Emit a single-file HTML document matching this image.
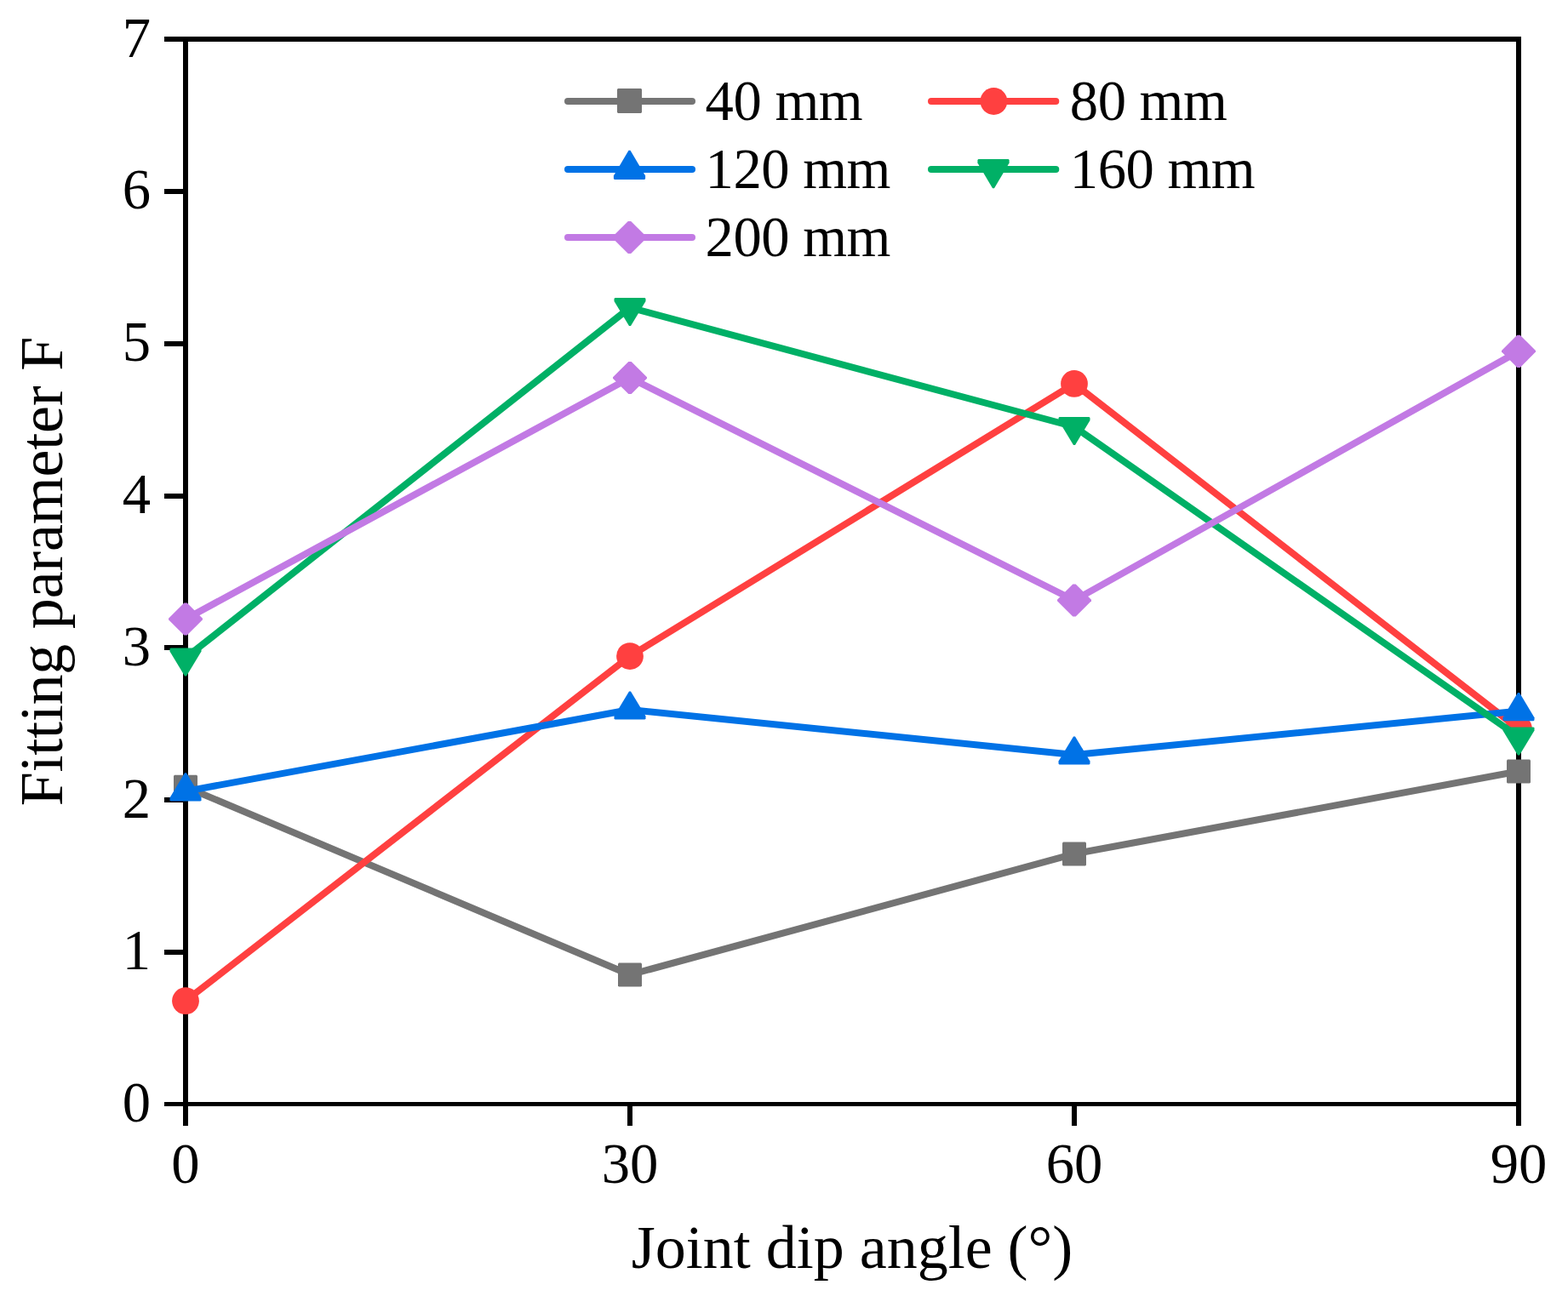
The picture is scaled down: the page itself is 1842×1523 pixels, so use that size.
<!DOCTYPE html>
<html lang="en"><head><meta charset="utf-8"><title>Fitting parameter F vs joint dip angle</title>
<style>
html,body{margin:0;padding:0;background:#fff;}
body{width:1842px;height:1523px;overflow:hidden;}
svg{display:block;}
text{font-family:"Liberation Serif","Times New Roman",serif;fill:#000;}
.t{font-size:66.67px;}
.a{font-size:72.0px;}
</style></head><body>
<svg width="1842" height="1523" viewBox="0 0 1842 1523">
<rect width="1842" height="1523" fill="#fff"/>
<g fill="#000" shape-rendering="crispEdges">
<rect x="193" y="43" width="1594" height="6"/>
<rect x="193" y="1295" width="1594" height="5"/>
<rect x="215" y="43" width="6" height="1280"/>
<rect x="1781" y="43" width="6" height="1280"/>
<rect x="193" y="1116" width="25" height="6"/>
<rect x="193" y="937" width="25" height="6"/>
<rect x="193" y="758" width="25" height="6"/>
<rect x="193" y="580" width="25" height="6"/>
<rect x="193" y="401" width="25" height="6"/>
<rect x="193" y="222" width="25" height="6"/>
<rect x="737" y="1297" width="6" height="26"/>
<rect x="1259" y="1297" width="6" height="26"/>
</g>
<g class="t">
<text x="177" y="1318.20" text-anchor="end">0</text>
<text x="177" y="1139.41" text-anchor="end">1</text>
<text x="177" y="960.63" text-anchor="end">2</text>
<text x="177" y="781.84" text-anchor="end">3</text>
<text x="177" y="603.06" text-anchor="end">4</text>
<text x="177" y="424.27" text-anchor="end">5</text>
<text x="177" y="245.49" text-anchor="end">6</text>
<text x="177" y="66.70" text-anchor="end">7</text>
<text x="218" y="1390.3" text-anchor="middle">0</text>
<text x="740" y="1390.3" text-anchor="middle">30</text>
<text x="1262" y="1390.3" text-anchor="middle">60</text>
<text x="1784" y="1390.3" text-anchor="middle">90</text>
</g>
<text class="a" x="1001" y="1489.6" text-anchor="middle">Joint dip angle (°)</text>
<text class="a" transform="translate(73.4 671.6) rotate(-90)" text-anchor="middle" letter-spacing="-0.24">Fitting parameter F</text>
<polyline points="218,924.70 740,1145.50 1262,1003.40 1784,906.40" fill="none" stroke="#747474" stroke-width="8.0" stroke-linejoin="round" stroke-linecap="butt"/>
<polygon points="205.00,910.70 231.00,910.70 232.00,911.70 232.00,937.70 231.00,938.70 205.00,938.70 204.00,937.70 204.00,911.70" fill="#747474"/>
<polygon points="727.00,1131.50 753.00,1131.50 754.00,1132.50 754.00,1158.50 753.00,1159.50 727.00,1159.50 726.00,1158.50 726.00,1132.50" fill="#747474"/>
<polygon points="1249.00,989.40 1275.00,989.40 1276.00,990.40 1276.00,1016.40 1275.00,1017.40 1249.00,1017.40 1248.00,1016.40 1248.00,990.40" fill="#747474"/>
<polygon points="1771.00,892.40 1797.00,892.40 1798.00,893.40 1798.00,919.40 1797.00,920.40 1771.00,920.40 1770.00,919.40 1770.00,893.40" fill="#747474"/>
<polyline points="218,1176.20 740,771.10 1262,450.90 1784,856.50" fill="none" stroke="#ff4040" stroke-width="8.0" stroke-linejoin="round" stroke-linecap="butt"/>
<circle cx="218.00" cy="1176.20" r="15.9" fill="#ff4040"/>
<circle cx="740.00" cy="771.10" r="15.9" fill="#ff4040"/>
<circle cx="1262.00" cy="450.90" r="15.9" fill="#ff4040"/>
<circle cx="1784.00" cy="856.50" r="15.9" fill="#ff4040"/>
<polyline points="218,929.90 740,834.00 1262,887.00 1784,835.60" fill="none" stroke="#0072e6" stroke-width="8.0" stroke-linejoin="round" stroke-linecap="butt"/>
<polygon points="217.00,908.30 219.00,908.30 236.50,937.50 236.50,940.50 235.50,941.50 200.50,941.50 199.50,940.50 199.50,937.50" fill="#0072e6"/>
<polygon points="739.00,812.40 741.00,812.40 758.50,841.60 758.50,844.60 757.50,845.60 722.50,845.60 721.50,844.60 721.50,841.60" fill="#0072e6"/>
<polygon points="1261.00,865.40 1263.00,865.40 1280.50,894.60 1280.50,897.60 1279.50,898.60 1244.50,898.60 1243.50,897.60 1243.50,894.60" fill="#0072e6"/>
<polygon points="1783.00,814.00 1785.00,814.00 1802.50,843.20 1802.50,846.20 1801.50,847.20 1766.50,847.20 1765.50,846.20 1765.50,843.20" fill="#0072e6"/>
<polyline points="218,773.00 740,361.50 1262,501.50 1784,866.00" fill="none" stroke="#00b066" stroke-width="8.0" stroke-linejoin="round" stroke-linecap="butt"/>
<polygon points="217.00,794.60 219.00,794.60 236.50,765.40 236.50,762.40 235.50,761.40 200.50,761.40 199.50,762.40 199.50,765.40" fill="#00b066"/>
<polygon points="739.00,383.10 741.00,383.10 758.50,353.90 758.50,350.90 757.50,349.90 722.50,349.90 721.50,350.90 721.50,353.90" fill="#00b066"/>
<polygon points="1261.00,523.10 1263.00,523.10 1280.50,493.90 1280.50,490.90 1279.50,489.90 1244.50,489.90 1243.50,490.90 1243.50,493.90" fill="#00b066"/>
<polygon points="1783.00,887.60 1785.00,887.60 1802.50,858.40 1802.50,855.40 1801.50,854.40 1766.50,854.40 1765.50,855.40 1765.50,858.40" fill="#00b066"/>
<polyline points="218,727.50 740,444.00 1262,705.50 1784,412.80" fill="none" stroke="#c27ae4" stroke-width="8.0" stroke-linejoin="round" stroke-linecap="butt"/>
<polygon points="216.30,708.40 219.70,708.40 238.00,726.70 238.00,728.30 219.70,746.60 216.30,746.60 198.00,728.30 198.00,726.70" fill="#c27ae4"/>
<polygon points="738.30,424.90 741.70,424.90 760.00,443.20 760.00,444.80 741.70,463.10 738.30,463.10 720.00,444.80 720.00,443.20" fill="#c27ae4"/>
<polygon points="1260.30,686.40 1263.70,686.40 1282.00,704.70 1282.00,706.30 1263.70,724.60 1260.30,724.60 1242.00,706.30 1242.00,704.70" fill="#c27ae4"/>
<polygon points="1782.30,393.70 1785.70,393.70 1804.00,412.00 1804.00,413.60 1785.70,431.90 1782.30,431.90 1764.00,413.60 1764.00,412.00" fill="#c27ae4"/>
<line x1="667" y1="119" x2="813" y2="119" stroke="#747474" stroke-width="8.0" stroke-linecap="round"/>
<polygon points="726.00,104.00 753.00,104.00 754.00,105.00 754.00,132.00 753.00,133.00 726.00,133.00 725.00,132.00 725.00,105.00" fill="#747474"/>
<text class="t" x="828.6" y="141.2" letter-spacing="-0.5">40 mm</text>
<line x1="1094" y1="119" x2="1240.3" y2="119" stroke="#ff4040" stroke-width="8.0" stroke-linecap="round"/>
<circle cx="1167.40" cy="119.00" r="15.9" fill="#ff4040"/>
<text class="t" x="1256.8" y="141.2" letter-spacing="-0.5">80 mm</text>
<line x1="667" y1="199" x2="813" y2="199" stroke="#0072e6" stroke-width="8.0" stroke-linecap="round"/>
<polygon points="738.50,176.80 740.50,176.80 758.10,206.40 758.10,210.00 757.10,211.00 721.90,211.00 720.90,210.00 720.90,206.40" fill="#0072e6"/>
<text class="t" x="828.6" y="221.1" letter-spacing="-0.5">120 mm</text>
<line x1="1094" y1="199" x2="1240.3" y2="199" stroke="#00b066" stroke-width="8.0" stroke-linecap="round"/>
<polygon points="1166.00,221.20 1168.00,221.20 1185.60,191.60 1185.60,188.00 1184.60,187.00 1149.40,187.00 1148.40,188.00 1148.40,191.60" fill="#00b066"/>
<text class="t" x="1256.8" y="221.1" letter-spacing="-0.5">160 mm</text>
<line x1="667" y1="279" x2="813" y2="279" stroke="#c27ae4" stroke-width="8.0" stroke-linecap="round"/>
<polygon points="737.80,259.90 741.20,259.90 759.50,278.20 759.50,279.80 741.20,298.10 737.80,298.10 719.50,279.80 719.50,278.20" fill="#c27ae4"/>
<text class="t" x="828.6" y="301" letter-spacing="-0.5">200 mm</text>
</svg>
</body></html>
